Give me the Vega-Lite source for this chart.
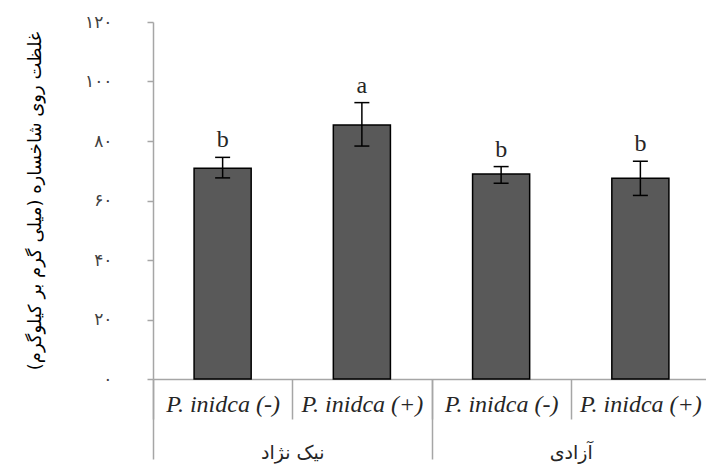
{
  "$schema": "https://vega.github.io/schema/vega-lite/v6.json",
  "autosize": {"type": "none"},
  "padding": {"left": 153, "top": 22, "right": 0, "bottom": 85},
  "width": 557,
  "height": 357,
  "background": "white",
  "config": {"view": {"stroke": null}},
  "data": {
    "values": [
      {"cultivar": "نیک نژاد", "key": "P. inidca (-)|n", "mean": 70.8, "lo": 67.6, "hi": 74.5, "letter": "b"},
      {"cultivar": "نیک نژاد", "key": "P. inidca (+)|n", "mean": 85.4, "lo": 78.3, "hi": 92.9, "letter": "a"},
      {"cultivar": "آزادی", "key": "P. inidca (-)|a", "mean": 68.9, "lo": 65.8, "hi": 71.4, "letter": "b"},
      {"cultivar": "آزادی", "key": "P. inidca (+)|a", "mean": 67.5, "lo": 61.7, "hi": 73.2, "letter": "b"}
    ]
  },
  "layer": [
    {
      "layer": [
        {
          "mark": {"type": "bar", "fill": "#595959", "stroke": "#000000", "strokeWidth": 1.5},
          "encoding": {
            "x": {
              "field": "key", "type": "nominal",
              "sort": ["P. inidca (-)|n", "P. inidca (+)|n", "P. inidca (-)|a", "P. inidca (+)|a"],
              "scale": {"paddingInner": 0.59, "paddingOuter": 0.295},
              "axis": null
            },
            "y": {
              "field": "mean", "type": "quantitative",
              "scale": {"domain": [0, 120], "nice": false},
              "axis": {
                "title": "غلظت روی شاخساره (میلی گرم بر کیلوگرم)",
                "values": [0, 20, 40, 60, 80, 100, 120],
                "labelExpr": "replace(replace(replace(replace(replace(replace(datum.label, regexp('0','g'), '۰'), regexp('1','g'), '۱'), regexp('2','g'), '۲'), regexp('4','g'), '۴'), regexp('6','g'), '۶'), regexp('8','g'), '۸')",
                "grid": false,
                "domainColor": "#a6a6a6",
                "domainWidth": 1.5,
                "tickColor": "#a6a6a6",
                "tickWidth": 1.5,
                "tickSize": 6,
                "labelPadding": 35,
                "labelFont": "DejaVu Sans",
                "labelFontSize": 17,
                "labelColor": "#404040",
                "titleFont": "DejaVu Sans",
                "titleFontSize": 18,
                "titleFontWeight": "normal",
                "titleColor": "#000000",
                "titlePadding": 40
              }
            }
          }
        },
        {
          "mark": {"type": "rule", "color": "#000000", "strokeWidth": 1.5},
          "encoding": {
            "x": {"field": "key", "type": "nominal", "sort": ["P. inidca (-)|n", "P. inidca (+)|n", "P. inidca (-)|a", "P. inidca (+)|a"]},
            "y": {"field": "lo", "type": "quantitative"},
            "y2": {"field": "hi"}
          }
        },
        {
          "mark": {"type": "tick", "color": "#000000", "size": 15, "thickness": 1.5, "opacity": 1},
          "encoding": {
            "x": {"field": "key", "type": "nominal", "sort": ["P. inidca (-)|n", "P. inidca (+)|n", "P. inidca (-)|a", "P. inidca (+)|a"]},
            "y": {"field": "lo", "type": "quantitative"}
          }
        },
        {
          "mark": {"type": "tick", "color": "#000000", "size": 15, "thickness": 1.5, "opacity": 1},
          "encoding": {
            "x": {"field": "key", "type": "nominal", "sort": ["P. inidca (-)|n", "P. inidca (+)|n", "P. inidca (-)|a", "P. inidca (+)|a"]},
            "y": {"field": "hi", "type": "quantitative"}
          }
        },
        {
          "mark": {"type": "text", "font": "Liberation Serif", "fontSize": 24, "dy": -10, "baseline": "alphabetic", "color": "#262626"},
          "encoding": {
            "x": {"field": "key", "type": "nominal", "sort": ["P. inidca (-)|n", "P. inidca (+)|n", "P. inidca (-)|a", "P. inidca (+)|a"]},
            "y": {"field": "hi", "type": "quantitative"},
            "text": {"field": "letter"}
          }
        }
      ]
    },
    {
      "mark": {"type": "point", "opacity": 0},
      "encoding": {
        "x": {
          "field": "key", "type": "nominal",
          "sort": ["P. inidca (-)|n", "P. inidca (+)|n", "P. inidca (-)|a", "P. inidca (+)|a"],
          "scale": {"paddingInner": 0, "paddingOuter": 0},
          "axis": {
            "orient": "bottom",
            "title": null,
            "labelExpr": "split(datum.label, '|')[0]",
            "labelAngle": 0,
            "labelFont": "Liberation Serif",
            "labelFontStyle": "italic",
            "labelFontSize": 24,
            "labelColor": "#262626",
            "labelBaseline": "middle",
            "labelPadding": -15,
            "labelLimit": 200,
            "tickBand": "extent",
            "tickSize": 40,
            "tickColor": "#a6a6a6",
            "tickWidth": 1.5,
            "domainColor": "#a6a6a6",
            "domainWidth": 1.5
          }
        },
        "y": {"field": "mean", "type": "quantitative"}
      }
    },
    {
      "mark": {"type": "point", "opacity": 0},
      "encoding": {
        "x": {
          "field": "cultivar", "type": "nominal",
          "sort": ["نیک نژاد", "آزادی"],
          "scale": {"paddingInner": 0, "paddingOuter": 0},
          "axis": {
            "orient": "bottom",
            "title": null,
            "labelAngle": 0,
            "labelFont": "DejaVu Sans",
            "labelFontSize": 19,
            "labelColor": "#262626",
            "labelBaseline": "middle",
            "labelPadding": -7,
            "tickBand": "extent",
            "tickSize": 80,
            "tickColor": "#a6a6a6",
            "tickWidth": 1.5,
            "domain": false
          }
        },
        "y": {"field": "mean", "type": "quantitative"}
      }
    }
  ],
  "resolve": {"scale": {"x": "independent"}, "axis": {"x": "independent"}}
}
